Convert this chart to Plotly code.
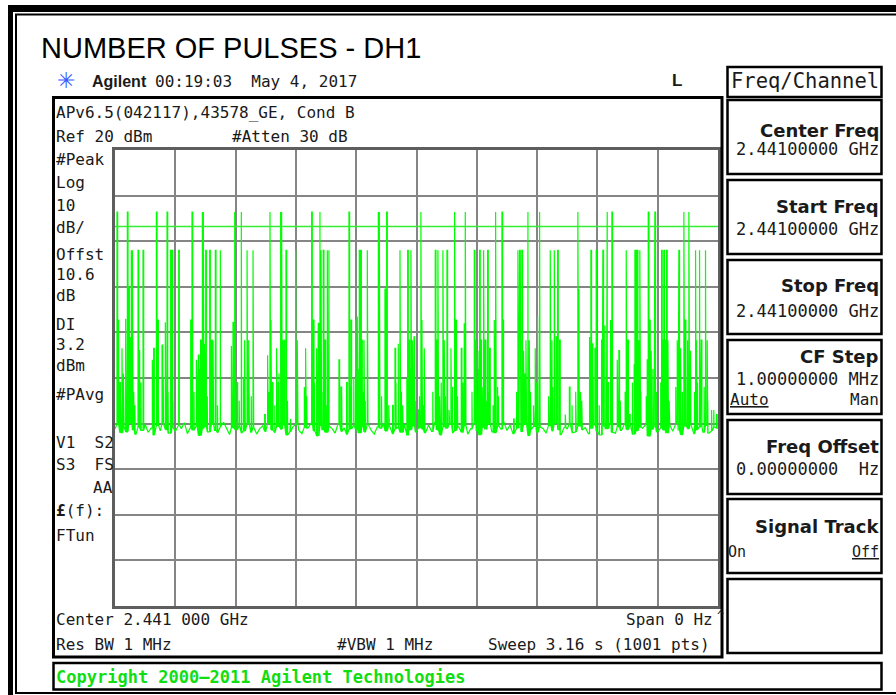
import plotly.graph_objects as go

# ---------------- data ----------------
sweep_pts = 1001
ref_level_dbm = 20
db_per_div = 10
display_line_dbm = 3.2

# noise floor, one value every 5 sweep points
floor_dbm = [
    -41.2, -40.1, -42.0, -40.6, -41.8, -39.9, -41.4, -42.3, -40.7, -41.5,
    -40.2, -41.9, -41.0, -42.5, -40.4, -41.6, -40.0, -41.3, -42.1, -40.8,
    -41.7, -40.3, -41.1, -39.8, -42.2, -40.9, -41.4, -40.5, -42.6, -41.0,
    -40.6, -41.8, -40.2, -41.5, -42.0, -40.7, -39.7, -41.2, -42.4, -40.9,
    -41.3, -40.4, -42.1, -41.6, -40.1, -41.9, -40.8, -42.3, -41.1, -40.5,
    -41.7, -39.9, -41.4, -42.0, -40.6, -41.2, -40.3, -42.5, -41.8, -40.7,
    -40.2, -41.5, -42.2, -40.8, -41.0, -39.8, -41.6, -42.7, -40.4, -41.3,
    -41.9, -40.5, -41.1, -42.1, -40.0, -41.7, -40.9, -42.4, -41.2, -40.3,
    -41.4, -42.0, -40.6, -41.8, -40.2, -41.5, -42.3, -40.7, -41.0, -39.9,
    -41.6, -40.4, -42.2, -41.1, -40.8, -41.9, -40.1, -42.6, -41.3, -40.5,
    -41.8, -40.9, -41.2, -42.0, -40.3, -41.7, -39.8, -41.4, -42.5, -40.6,
    -41.0, -40.2, -42.1, -41.5, -40.7, -41.9, -40.4, -42.3, -41.1, -40.0,
    -41.6, -42.4, -40.8, -41.3, -40.1, -41.8, -42.0, -40.5, -41.2, -39.7,
    -41.5, -40.3, -42.2, -41.0, -40.9, -41.7, -40.2, -42.6, -41.4, -40.6,
    -41.9, -40.7, -41.1, -42.1, -40.4, -41.6, -39.9, -41.3, -42.4, -40.8,
    -41.2, -40.0, -42.0, -41.8, -40.5, -41.4, -40.9, -42.2, -41.0, -40.3,
    -41.7, -42.5, -40.6, -41.1, -40.2, -41.9, -42.1, -40.7, -41.5, -39.8,
    -41.3, -40.4, -42.3, -41.6, -40.8, -41.0, -40.1, -42.7, -41.2, -40.6,
    -41.8, -40.9, -41.4, -42.0, -40.3, -41.7, -40.0, -41.5, -42.4, -40.5,
    -41.1, -40.2, -42.2, -41.3, -40.7, -41.9, -40.4, -42.1, -41.6, -40.8,
    -41.0,
]

# pulses: sweep point position and peak level (dBm)
pulse_pos = [
    3.3, 5.0, 7.8, 11.6, 17.7, 20.5, 22.7, 25.4, 27.1, 28.8, 31.0, 38.2, 39.8, 46.5,
    61.9, 64.1, 68.6, 70.8, 78.0, 83.5, 86.3, 92.3, 94.5, 105.6, 125.5, 127.7, 134.9,
    138.2, 142.0, 144.9, 146.5, 148.2, 150.4, 157.0, 159.8, 162.5, 166.4, 174.7, 193.0,
    195.7, 198.5, 202.3, 209.5, 215.0, 219.0, 221.7, 228.9, 248.2,
    253.1, 257.0, 258.6, 260.9, 268.0, 270.8, 274.7, 276.3, 278.0, 280.2, 283.5, 290.2,
    299.6, 302.3, 314.0, 316.1, 326.1, 328.9, 334.4, 337.1, 339.9, 341.6, 345.4, 348.2,
    352.1, 354.8, 371.4, 374.7, 384.1, 388.0, 391.3, 399.1, 401.8, 405.1, 407.4, 409.0,
    412.9, 418.4, 436.7, 438.3, 447.7, 450.5, 460.4, 464.3, 469.8, 472.6, 477.0, 485.3,
    487.5, 490.8, 493.0, 495.8,
    503.5, 507.3, 509.0, 512.9, 531.1, 532.8, 535.5, 538.3, 543.8, 546.0, 550.5, 557.1,
    559.9, 563.2, 565.4, 574.2, 579.2, 580.9, 595.8, 597.4, 601.9, 604.6, 606.8, 611.3,
    614.0, 617.9, 621.2, 629.0, 631.2, 634.5, 641.7, 643.3, 661.0, 668.2, 671.0, 674.8,
    677.6, 681.5, 684.8, 687.0, 696.9, 700.8, 704.1, 721.8, 724.6, 728.5, 731.8, 734.0,
    737.3, 746.7,
    753.5, 767.6, 769.3, 772.0, 787.0, 789.2, 791.4, 795.8, 798.0, 806.9, 809.1, 812.4,
    815.2, 817.4, 821.8, 824.0, 832.9, 835.6, 847.8, 850.5, 853.3, 862.2, 864.4, 866.0,
    868.8, 870.4, 882.6, 884.3, 886.5, 889.2, 894.2, 895.3, 906.4, 908.6, 910.2, 913.0,
    914.7, 916.9, 932.4, 935.1, 937.9, 943.4, 945.6, 949.5, 951.7, 954.5, 962.8, 964.4,
    969.4, 972.2, 979.3, 982.1, 989.3, 997.6,
]
pulse_dbm = [
    6.4, -17.3, -31, -23.5, -17, 6.4, -10, -21, -2.0, -2.0, -33, -2.0, -24, -2.0,
    -26, -23.5, 6.4, -17.3, -22.8, -17.8, 6.4, -2.0, -2.0, -2.0, -17.3, 6.4, -26,
    -25, -21.7, 6.4, 6.4, -22.5, -2.0, -2.0, -21.7, -21.7, -2.0, -2.0, -23,
    -17.8, 6.4, -31, 6.4, -21.7, -2.0, -21.7, -2.0, -38,
    -25, 6.4, -17.3, -31, -23.5, -31, 6.4, 6.4, -21.7, -21.7, -2.0, -39,
    -2.0, -21.7, -32, -23.5, 6.4, -17.3, -23.5, -18, 6.4, -2.0, -2.0, -21.7,
    -2.0, -2.0, -26, -32, -31, 6.4, -17.3, -17.3, -16.5, -2.0, -2.0, -21.7,
    -21.7, -2.0, 6.4, 6.4, -10.5, 6.4, -36, -23.5, -22.5, -2.0, -36, -2.0,
    -21.7, -2.0, -21.7, -21,
    -37, 6.4, -17.3, -23.5, -2.0, -21.7, -2.0, -34, -2.0, -21.7, -2.0, -23.5,
    -32, 6.4, -17.3, -23.5, -18, 6.4, -2.0, -21.7, -24, -2.0, -21.7, -2.0,
    -21.7, -2.0, -23.5, -17.3, 6.4, -32, 6.4, -17.3, -39, -2.0, -2.0, -2.0,
    -24, -21.7, 6.4, -21.7, -23.5, -16.5, 6.4, -2.0, -21.7, -2.0, -21, -2.0,
    -21.7, -38,
    -32, 6.4, -10.5, -33, -21, -2.0, -22.5, -23.5, -2.0, -21.7, -2.0, -18.5,
    6.4, -31, -17.3, 6.4, -26, -24, -2.0, -21.7, -38, -2.0, -2.0, -2.0,
    -21.7, -2.0, -26, 6.4, -17.3, -24, -18.5, 6.4, -2.0, -21.7, -2.0, -21.7,
    -2.0, -21.7, -21.7, -2.0, -23.5, 6.4, -17.3, -21.7, 6.4, -24, -2.0, -21.7,
    -2.0, -21.7, -2.0, -21.7, -37, -38,
]

# small spikes ("grass") inside the pulse bursts
grass_pos = [
    9, 14, 24, 33, 43, 63, 72, 80, 88, 96, 131, 136, 141, 153, 160, 170, 197, 206, 213,
    226, 255, 265, 272, 279, 286, 318, 331, 336, 343, 350, 376, 390, 396, 403, 411, 415,
    442, 454, 466, 475, 484, 489, 494, 498, 505, 511, 527, 534, 541, 548, 554, 568, 577,
    592, 599, 603, 609, 613, 616, 620, 627, 636, 666, 670, 673, 680, 689, 694, 699, 719,
    726, 733, 738, 758, 764, 774, 788, 793, 797, 803, 808, 813, 823, 838, 846, 858, 861,
    863, 865, 867, 872, 881, 887, 892, 898, 905, 909, 912, 915, 919, 930, 934, 941, 947,
    953, 961, 966, 971, 977, 983, 993,
]
grass_dbm = [
    -35, -29, -33, -36, -31, -34, -36, -30, -33, -35, -33, -30, -28, -34, -31, -36, -33, -35, -30,
    -34, -33, -36, -29, -32, -35, -34, -31, -29, -33, -36, -34, -32, -30, -28, -33, -35,
    -34, -36, -31, -33, -30, -28, -32, -35, -34, -36, -33, -35, -31, -34, -37, -34, -31,
    -33, -30, -28, -32, -29, -35, -33, -36, -34, -33, -30, -34, -29, -33, -36, -31, -34,
    -32, -30, -35, -36, -33, -35, -33, -30, -34, -36, -29, -32, -33, -35, -33, -31, -27,
    -29, -26, -30, -33, -34, -30, -28, -33, -31, -28, -30, -33, -35, -32, -35, -33, -30,
    -34, -33, -31, -34, -32, -35, -37,
]

# ---------------- build the trace ----------------
step = (sweep_pts - 1) / (len(floor_dbm) - 1)


def floor_at(p):
    return floor_dbm[int(round(p / step))]


events = [(i * step, [(i * step, v)]) for i, v in enumerate(floor_dbm)]
for p, lv in zip(pulse_pos, pulse_dbm):
    f = floor_at(p)
    events.append((p, [(p, f), (p, lv), (p + 1.1, lv), (p + 1.1, f)]))
for p, lv in zip(grass_pos, grass_dbm):
    f = floor_at(p)
    events.append((p, [(p, f), (p, lv), (p + 0.4, f)]))
events.sort(key=lambda e: e[0])
tx, ty = [], []
for _, pts in events:
    for a, b in pts:
        tx.append(a)
        ty.append(b)

# ---------------- figure ----------------
W, H = 896, 695
PL, PR, PT, PB = 115, 718, 150, 606


def X(px):
    return (px - PL) / (PR - PL)


def Y(py):
    return (PB - py) / (PB - PT)


fig = go.Figure()
fig.add_trace(go.Scatter(x=tx, y=ty, mode="lines", line=dict(color="#00ff00", width=1.2),
                         hoverinfo="skip", showlegend=False))
fig.add_trace(go.Scatter(x=[0, sweep_pts - 1], y=[display_line_dbm, display_line_dbm], mode="lines",
                         line=dict(color="#33ee33", width=1.5), hoverinfo="skip", showlegend=False))

axis_common = dict(showticklabels=False, ticks="", showgrid=True, gridcolor="#858585", gridwidth=1.5,
                   showline=True, mirror=True, linecolor="#5e5e5e", linewidth=2.5, zeroline=False,
                   fixedrange=True)
fig.update_xaxes(range=[0, sweep_pts - 1], tick0=0, dtick=(sweep_pts - 1) / 10, **axis_common)
fig.update_yaxes(range=[ref_level_dbm - 10 * db_per_div, ref_level_dbm], tick0=ref_level_dbm,
                 dtick=db_per_div, **axis_common)

shapes = []


def rect(x0, y0, x1, y1, lw=2.5, fill=None):
    d = dict(type="rect", xref="paper", yref="paper", x0=X(x0), x1=X(x1), y0=Y(y0), y1=Y(y1),
             line=dict(color="black", width=lw), layer="above")
    if fill:
        d["fillcolor"] = fill
        d["line"] = dict(width=0)
    shapes.append(d)


def hline(x0, x1, y, lw):
    shapes.append(dict(type="line", xref="paper", yref="paper", x0=X(x0), x1=X(x1), y0=Y(y), y1=Y(y),
                       line=dict(color="black", width=lw)))


def vline(x, y0, y1, lw):
    shapes.append(dict(type="line", xref="paper", yref="paper", x0=X(x), x1=X(x), y0=Y(y0), y1=Y(y1),
                       line=dict(color="black", width=lw)))


# outer frame
rect(8, 5, 896, 12, fill="black")
rect(8, 5, 13, 695, fill="black")
hline(15, 896, 14.5, 2)
vline(16, 14, 693, 2)
hline(15, 896, 693, 2)

# instrument screen, copyright strip, softkeys
rect(53.5, 97.5, 722, 657, lw=3)
rect(53.5, 663, 881.5, 689.5, lw=2.5)
rect(727.5, 67, 881.5, 97, lw=2.5)
box_tops = [100, 180, 260, 340, 420, 499, 579]
for t in box_tops:
    rect(727.5, t, 881.5, t + 74, lw=2.5)

MONO = "DejaVu Sans Mono"
SANS = "Liberation Sans"
TXT = "#1a1a1a"


def T(text, x, base, size=16, family=MONO, anchor="left", color=TXT):
    fig.add_annotation(text=text, x=X(x), y=Y(base - 0.36 * size), xref="paper", yref="paper",
                       xanchor=anchor, yanchor="middle", showarrow=False, borderpad=0,
                       font=dict(size=size, family=family, color=color))


# title & header
T("NUMBER OF PULSES - DH1", 40, 58, size=29, family=SANS, color="black")
fig.add_annotation(text="✳", x=X(66), y=Y(80), xref="paper", yref="paper", xanchor="center",
                   yanchor="middle", showarrow=False, font=dict(size=22, family="DejaVu Sans", color="#3a5cff"))
T("<b>Agilent</b>", 91, 87, size=16, family=SANS)
T("00:19:03  May 4, 2017", 154, 87, size=16)
T("<b>L</b>", 671, 87, size=17, family=SANS)
T("Freq/Channel", 880, 88, size=20.5, anchor="right")

# screen annotations
T("APv6.5(042117),43578_GE, Cond B", 55, 118)
T("Ref 20 dBm", 55, 142)
T("#Atten 30 dB", 231, 142)
left_labels = ["#Peak", "Log", "10", "dB/", "Offst", "10.6", "dB", "DI", "3.2", "dBm", "#PAvg",
               "V1  S2", "S3  FS", "<b>£</b>(f):", "FTun"]
left_base = [165, 188, 211, 233, 260, 280, 301, 330, 350, 371, 400, 448, 470, 516, 541]
for s, b in zip(left_labels, left_base):
    T(s, 55, b)
T("AA", 114, 493, anchor="right")
T("Center 2.441 000 GHz", 55, 625)
T("Res BW 1 MHz", 55, 650)
T("#VBW 1 MHz", 336, 650)
T("Span 0 Hz", 714, 625, anchor="right")
T("^", 716, 620, size=12)
T("Sweep 3.16 s (1001 pts)", 711, 650, anchor="right")
T("<b>Copyright 2000–2011 Agilent Technologies</b>", 55, 683, size=17, color="#11dd11")

# softkeys
SKB = "DejaVu Sans"
key_titles = ["Center Freq", "Start Freq", "Stop Freq", "CF Step", "Freq Offset", "Signal Track"]
key_title_base = [137, 213, 292, 363, 453, 533]
for s, b in zip(key_titles, key_title_base):
    T("<b>" + s + "</b>", 880, b, size=18, family=SKB, anchor="right")
key_values = ["2.44100000 GHz", "2.44100000 GHz", "2.44100000 GHz", "1.00000000 MHz", "0.00000000  Hz"]
key_value_base = [155, 235, 317, 385, 475]
for s, b in zip(key_values, key_value_base):
    T(s, 880, b, size=17, anchor="right")
T("<u>Auto</u>", 729, 405, size=16)
T("Man", 880, 405, size=16, anchor="right")
T("On", 727, 557, size=15)
T("<u>Off</u>", 880, 557, size=15, anchor="right")

fig.update_layout(width=W, height=H, autosize=False,
                  margin=dict(l=PL, r=W - PR, t=PT, b=H - PB, pad=0),
                  paper_bgcolor="white", plot_bgcolor="white", shapes=shapes, showlegend=False)

fig.write_html("out.html", config={"displayModeBar": False},
               post_script="document.body.style.margin='0';document.body.style.overflow='hidden';")
